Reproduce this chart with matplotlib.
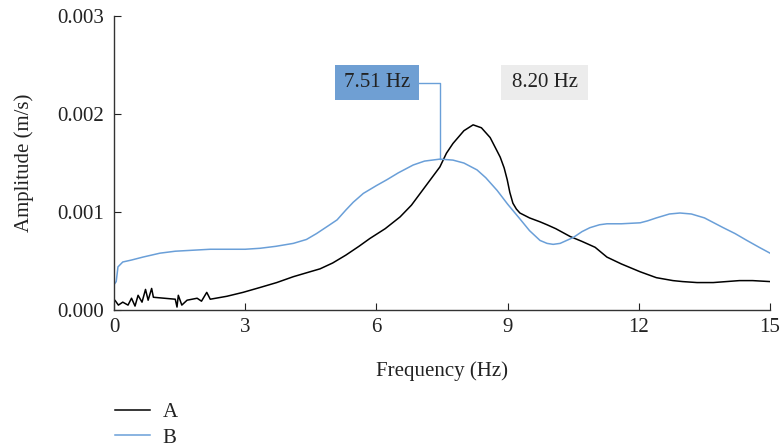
import matplotlib
matplotlib.use("Agg")
import matplotlib.pyplot as plt
from matplotlib.patches import Rectangle

plt.rcParams['font.family'] = ['Liberation Serif', 'DejaVu Serif']

# Signal A (black)
freq_a = [0.0, 0.02, 0.1, 0.2, 0.32, 0.4, 0.48, 0.55, 0.64, 0.72, 0.78, 0.86, 0.9,
          1.4, 1.44, 1.47, 1.55, 1.67, 1.9, 2.0, 2.12, 2.2, 2.58, 2.95, 3.34, 3.72,
          4.1, 4.48, 4.71, 5.0, 5.3, 5.6, 5.85, 6.2, 6.54, 6.8, 7.0, 7.2, 7.45, 7.6,
          7.75, 8.0, 8.21, 8.4, 8.6, 8.75, 8.83, 8.92, 8.99, 9.05, 9.12, 9.2, 9.28,
          9.5, 9.74, 9.9, 10.1, 10.43, 10.7, 11.0, 11.27, 11.6, 12.03, 12.4, 12.78,
          13.0, 13.33, 13.7, 14.0, 14.3, 14.6, 15.0]
amp_a = [0.00010, 0.00010, 0.00005, 0.00008, 0.00005, 0.00012, 0.00004, 0.00015, 0.00008,
         0.00021, 0.00010, 0.00022, 0.00013, 0.00011, 0.00003, 0.00015, 0.00005, 0.00010,
         0.00012, 0.00009, 0.00018, 0.00011, 0.00014, 0.00018, 0.00023, 0.00028, 0.00034,
         0.00039, 0.00042, 0.00048, 0.00056, 0.00065, 0.00073, 0.00083, 0.00095, 0.00107,
         0.00119, 0.00131, 0.00146, 0.00160, 0.00170, 0.00183, 0.00189, 0.00186, 0.00176,
         0.00163, 0.00156, 0.00145, 0.00133, 0.00120, 0.00109, 0.00103, 0.00099, 0.00094,
         0.00090, 0.00087, 0.00083, 0.00075, 0.00070, 0.00064, 0.00054, 0.00047, 0.00039,
         0.00033, 0.00030, 0.00029, 0.00028, 0.00028, 0.00029, 0.00030, 0.00030, 0.00029]

# Signal B (blue)
freq_b = [0.0, 0.05, 0.09, 0.2, 0.4, 0.66, 1.05, 1.4, 1.8, 2.2, 2.58, 3.0, 3.34, 3.7,
          4.1, 4.4, 4.63, 4.9, 5.1, 5.3, 5.47, 5.7, 6.0, 6.24, 6.5, 6.84, 7.1, 7.45,
          7.75, 8.0, 8.3, 8.5, 8.76, 9.0, 9.28, 9.5, 9.74, 9.9, 10.04, 10.2, 10.5,
          10.7, 10.88, 11.1, 11.27, 11.6, 12.03, 12.2, 12.4, 12.7, 12.94, 13.2, 13.5,
          13.93, 14.2, 14.47, 14.75, 15.0]
amp_b = [0.00026, 0.00029, 0.00044, 0.00049, 0.00051, 0.00054, 0.00058, 0.00060, 0.00061,
         0.00062, 0.00062, 0.00062, 0.00063, 0.00065, 0.00068, 0.00072, 0.00078, 0.00086,
         0.00092, 0.00102, 0.00110, 0.00119, 0.00127, 0.00133, 0.00140, 0.00148, 0.00152,
         0.00154, 0.00153, 0.00150, 0.00143, 0.00135, 0.00122, 0.00108, 0.00093, 0.00081,
         0.00071, 0.00068, 0.00067, 0.00068, 0.00074, 0.00080, 0.00084, 0.00087, 0.00088,
         0.00088, 0.00089, 0.00091, 0.00094, 0.00098, 0.00099, 0.00098, 0.00094, 0.00084,
         0.00078, 0.00071, 0.00064, 0.00058]

xticks = [0, 3, 6, 9, 12, 15]
yticks = [0.0, 0.001, 0.002, 0.003]
ytick_labels = ["0.000", "0.001", "0.002", "0.003"]

peak_b_label = "7.51 Hz"
peak_a_label = "8.20 Hz"

blue = "#6a9fd8"
text_col = "#222222"
fs = 15

fig = plt.figure(figsize=(7.81, 4.47), dpi=100)
ax = fig.add_axes([0.146, 0.3065, 0.84, 0.6575])

ax.plot(freq_a, amp_a, color="black", lw=1.1, label="A")
ax.plot(freq_b, amp_b, color=blue, lw=1.1, label="B")

ax.set_xlim(0, 15)
ax.set_ylim(0, 0.003)
ax.set_xticks(xticks)
ax.set_xticklabels([str(t) for t in xticks])
ax.set_yticks(yticks)
ax.set_yticklabels(ytick_labels)
ax.tick_params(direction="in", length=5, labelsize=fs, colors=text_col, pad=7)
ax.tick_params(axis="x", pad=6)
for s in ["top", "right"]:
    ax.spines[s].set_visible(False)
for s in ["left", "bottom"]:
    ax.spines[s].set_color("#333333")
    ax.spines[s].set_linewidth(1.0)

ax.set_xlabel("Frequency (Hz)", fontsize=fs, color=text_col, labelpad=17)
ax.set_ylabel("Amplitude (m/s)", fontsize=fs, color=text_col, labelpad=17)

# peak annotations
box_y, box_h, box_w = 0.00214, 0.00036, 1.92
ax.add_patch(Rectangle((5.05, box_y), box_w, box_h, facecolor="#6f9fd3",
                       edgecolor="none", zorder=3))
ax.text(5.05 + box_w / 2, box_y + box_h / 2, peak_b_label, ha="center", va="center",
        fontsize=fs, color=text_col, zorder=4)
ax.add_patch(Rectangle((8.85, box_y), 1.99, box_h, facecolor="#ececec",
                       edgecolor="none", zorder=3))
ax.text(8.85 + 1.99 / 2, box_y + box_h / 2, peak_a_label, ha="center", va="center",
        fontsize=fs, color=text_col, zorder=4)

i_peak = amp_b.index(max(amp_b))
x_peak = freq_b[i_peak]
ax.plot([5.05 + box_w, x_peak, x_peak], [box_y + box_h / 2, box_y + box_h / 2, amp_b[i_peak]],
        color=blue, lw=1.0, zorder=2)

fig.legend(loc="upper left", bbox_to_anchor=(0.147, 0.10), frameon=False,
           fontsize=fs, handlelength=1.7, handletextpad=0.6, labelspacing=0.3,
           borderpad=0, borderaxespad=0, labelcolor=text_col)

fig.savefig("out.png", dpi=100)
